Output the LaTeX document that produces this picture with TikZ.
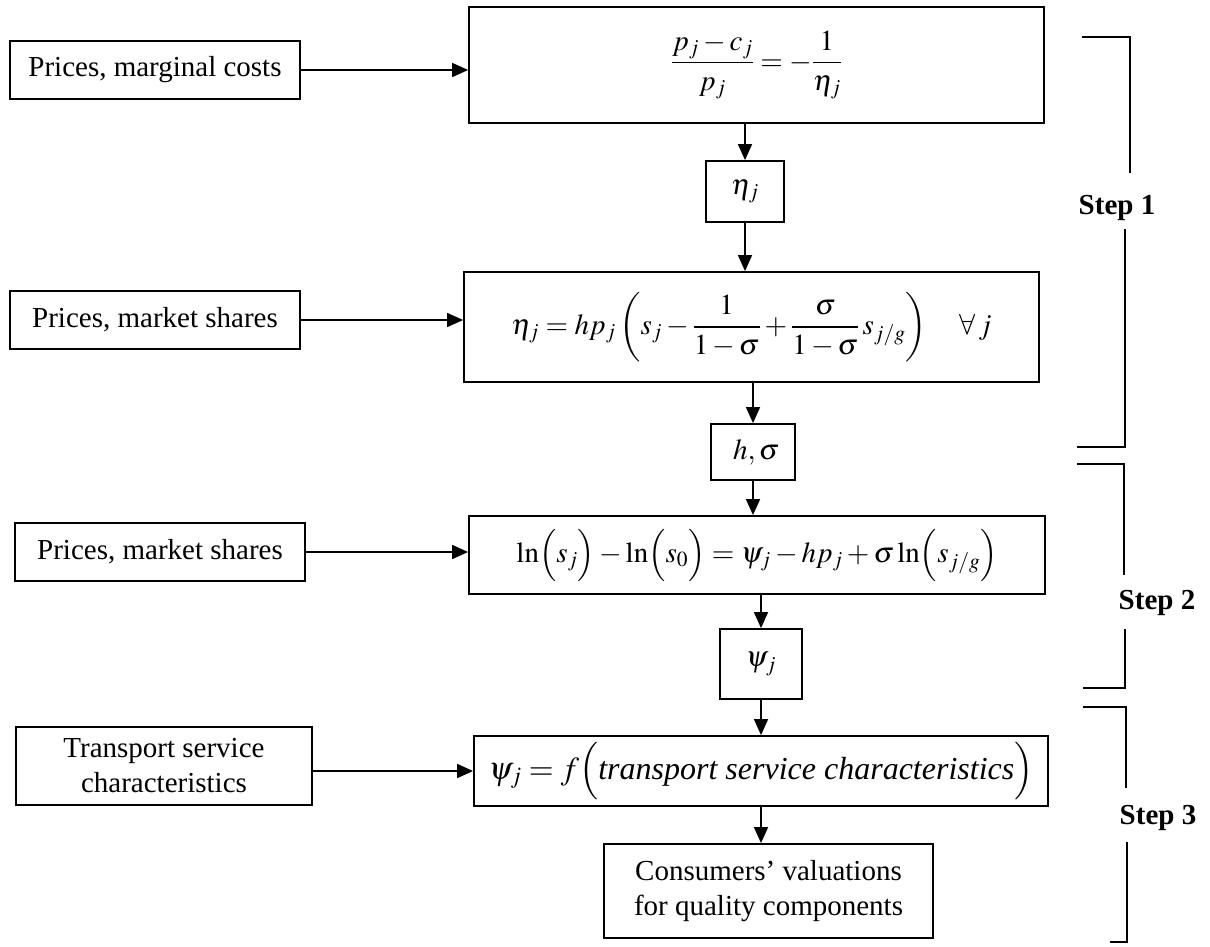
\documentclass[tikz,border=0pt]{standalone}
\usepackage{amsmath}
\usepackage{mathptmx}
\usepackage[no-math]{fontspec}
\setmainfont{Liberation Serif}
\usetikzlibrary{arrows.meta,calc}
\newcommand\fsz{\fontsize{29}{35}\selectfont}
\newcommand\fbig{\fontsize{32}{38}\selectfont}
\tikzset{
  box/.style={draw, line width=1.8pt, inner sep=0pt, align=center, font=\fsz},
  arr/.style={-{Triangle[length=16pt,width=14pt]}, line width=1.6pt},
  brk/.style={line width=2pt},
  steplab/.style={font=\fsz\bfseries, inner sep=0pt}
}
\begin{document}
\begin{tikzpicture}[x=1pt,y=-1pt]
\useasboundingbox (0,0) rectangle (1210,946);
% left input boxes
\node[box, minimum width=290pt, minimum height=58pt] (L1) at (155,70) {Prices, marginal costs};
\node[box, minimum width=290pt, minimum height=58pt] (L2) at (155,320) {Prices, market shares};
\node[box, minimum width=290pt, minimum height=58pt] (L3) at (160,552) {Prices, market shares};
\node[box, minimum width=296pt, minimum height=78pt] (L4) at (164,766) {Transport service\\characteristics};
% main column
\node[box, minimum width=575pt, minimum height=116pt] (B1) at (756.5,65)
  {$\dfrac{p_j - c_j}{p_j} = -\dfrac{1}{\eta_j}$};
\node[box, minimum width=78pt, minimum height=61pt] (E) at (745,191.5) {$\eta_j$};
\node[box, minimum width=575pt, minimum height=110pt] (B2) at (751.5,327)
  {$\eta_j = hp_j\left(s_j - \dfrac{1}{1-\sigma} + \dfrac{\sigma}{1-\sigma}\,s_{j/g}\right)\quad \forall\, j$};
\node[box, minimum width=84pt, minimum height=56pt] (HS) at (753,452) {$\;h,\sigma$};
\node[box, minimum width=576pt, minimum height=78pt] (B3) at (757,555)
  {$\ln\Bigl(s_j\Bigr) - \ln\Bigl(s_0\Bigr) = \psi_j - hp_j + \sigma\ln\Bigl(s_{j/g}\Bigr)$};
\node[box, minimum width=82pt, minimum height=70pt] (P) at (761,664) {$\psi_j$};
\node[box, minimum width=574pt, minimum height=70pt, font=\fbig] (B4) at (761,771)
  {$\psi_j = f\Bigl(\text{\itshape transport service characteristics}\Bigr)$};
\node[box, minimum width=329pt, minimum height=94pt] (B5) at (768.5,891)
  {Consumers’ valuations\\for quality components};
% horizontal arrows
\draw[arr] (L1.east) -- (L1.east -| B1.west);
\draw[arr] (L2.east) -- (L2.east -| B2.west);
\draw[arr] (L3.east) -- (L3.east -| B3.west);
\draw[arr] (L4.east |- B4.west) -- (B4.west);
% vertical arrows
\draw[arr] (B1.south -| E) -- (E.north);
\draw[arr] (E.south) -- (E.south |- B2.north);
\draw[arr] (B2.south -| HS) -- (HS.north);
\draw[arr] (HS.south) -- (HS.south |- B3.north);
\draw[arr] (B3.south -| P) -- (P.north);
\draw[arr] (P.south) -- (P.south |- B4.north);
\draw[arr] (B4.south -| P) -- (B5.north -| P);
% step brackets
\node[steplab] (S1) at (1117,208) {Step 1};
\node[steplab] (S2) at (1157,603) {Step 2};
\node[steplab] (S3) at (1158,818) {Step 3};
\draw[brk] (1082,37) -- (1130,37) -- (1130,173);
\draw[brk] (1125,229) -- (1125,447) -- (1077,447);
\draw[brk] (1077,464) -- (1124,464) -- (1124,575);
\draw[brk] (1125,629) -- (1125,688) -- (1083,688);
\draw[brk] (1083,707) -- (1126,707) -- (1126,788);
\draw[brk] (1127,842) -- (1127,942) -- (1110,942);
\end{tikzpicture}
\end{document}
